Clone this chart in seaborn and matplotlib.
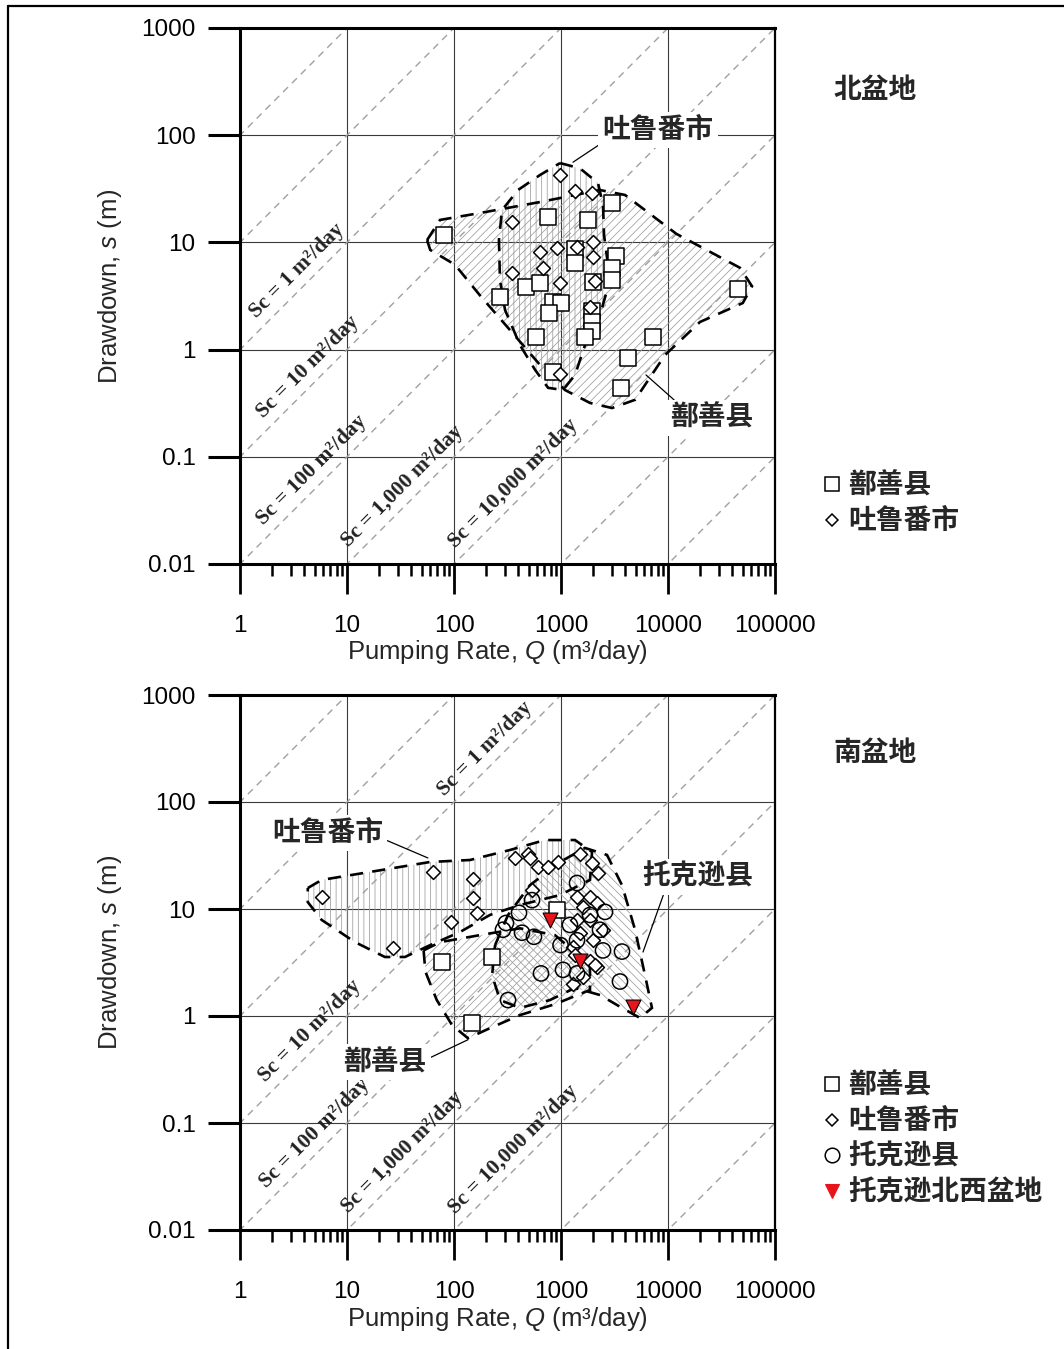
import numpy as np
import matplotlib
matplotlib.use("Agg")
import matplotlib.pyplot as plt
import seaborn as sns
from matplotlib.patches import Polygon
from matplotlib.lines import Line2D
from matplotlib.ticker import FixedLocator, FixedFormatter, NullFormatter, NullLocator

# ---------------- data ----------------
# North basin (北盆地): pumping rate Q (m3/day) and drawdown s (m)
north_shanshan_q = [80, 760, 1800, 3000, 3300, 1350, 1350, 3000, 3000, 2000, 470, 640, 270,
                    840, 1000, 770, 1950, 1950, 1950, 580, 1680, 7200, 4200, 3600, 840, 45000]
north_shanshan_s = [11.7, 17.3, 16.2, 23.3, 7.5, 8.7, 6.4, 5.8, 4.5, 4.3, 3.8, 4.2, 3.1,
                    2.8, 2.7, 2.2, 2.3, 1.8, 1.5, 1.3, 1.3, 1.3, 0.84, 0.44, 0.62, 3.7]
north_turpan_q = [980, 1350, 1950, 350, 640, 920, 1400, 2000, 2000, 350, 680, 980, 2080, 1870, 980]
north_turpan_s = [42.5, 30, 29, 15.5, 8.1, 8.9, 9.1, 10.1, 7.3, 5.2, 5.8, 4.2, 4.4, 2.5, 0.59]

# North basin envelopes
north_shanshan_env_q = [56, 74, 175, 636, 2314, 3963, 12000, 47000, 61000, 50000, 19900, 9380,
                        4920, 3000, 1866, 1089, 636, 334, 175, 102, 60]
north_shanshan_env_s = [10.5, 16.2, 18.8, 23.8, 30.8, 27.7, 12.0, 5.8, 3.9, 2.72, 1.81, 0.89,
                        0.34, 0.285, 0.318, 0.42, 0.72, 1.52, 3.2, 6.2, 8.5]
north_turpan_env_q = [980, 1506, 2218, 2470, 2525, 2870, 2314, 1676, 1352, 1045, 757, 571,
                      414, 300, 269, 263, 281, 396, 636]
north_turpan_env_s = [55, 49, 35.8, 22.3, 11.7, 4.46, 2.1, 1.1, 0.58, 0.42, 0.44, 0.65,
                      1.1, 2.34, 4.46, 10.5, 20, 30.8, 42.5]

# South basin (南盆地)
south_shanshan_q = [77, 227, 147, 918]
south_shanshan_s = [3.2, 3.56, 0.86, 9.8]
south_turpan_q = [5.8, 64, 150, 150, 164, 94, 27, 372, 492, 513, 610, 757, 937, 1505, 1950,
                  2218, 536, 1412, 1866, 1606, 2170, 1412, 1866, 2470, 1505, 1991, 1295,
                  1866, 2170, 1606, 1295, 1352, 2080]
south_turpan_s = [12.9, 22.2, 19.1, 12.7, 9.2, 7.6, 4.3, 30, 33, 30, 24.7, 24.7, 27.5, 33, 26.9,
                  21.7, 15.1, 12.9, 12.9, 10.4, 11.4, 7.9, 7.9, 6.4, 6.0, 5.1, 4.4,
                  3.3, 2.87, 2.3, 2.0, 3.7, 3.0]
south_toksun_q = [1412, 536, 405, 306, 287, 432, 559, 650, 320, 1044, 1412, 3715, 3558, 2470,
                  2578, 1866, 1213, 1412, 990, 2314]
south_toksun_s = [17.5, 12.1, 9.2, 7.4, 6.4, 6.0, 5.5, 2.5, 1.41, 2.7, 2.5, 4.0, 2.1, 4.1,
                  9.4, 8.8, 7.1, 5.1, 4.6, 6.4]
south_nw_q = [789, 1505, 4710]
south_nw_s = [7.9, 3.3, 1.21]

# South basin envelopes
south_turpan_env_q = [4.3, 5.8, 16.4, 59.7, 141, 334, 708, 1352, 1950, 1866, 979, 414, 217,
                      114, 60, 34.8, 22.6, 11.9, 5.8, 4.3]
south_turpan_env_s = [15.7, 18.7, 22.2, 27.5, 28.7, 35.6, 44.1, 44.1, 34.1, 18.7, 13.5, 10.9,
                      8.8, 6.1, 4.6, 3.56, 3.56, 4.9, 7.9, 11.6]
south_shanshan_env_q = [52, 74, 175, 414, 879, 1866, 1866, 879, 414, 217, 135, 96, 69, 54]
south_shanshan_env_s = [4.1, 4.9, 5.7, 6.6, 5.7, 3.0, 1.75, 1.29, 1.02, 0.77, 0.62, 0.82,
                        1.41, 2.6]
south_toksun_env_q = [242, 320, 513, 979, 1676, 2692, 3715, 4920, 6100, 7080, 5470, 3715,
                      2314, 1352, 789, 414, 269, 227]
south_toksun_env_s = [4.6, 8.8, 16.7, 27.5, 37.2, 32, 16.7, 6.4, 2.4, 1.19, 0.96, 1.19,
                      1.57, 1.83, 1.41, 1.19, 1.41, 2.4]

# Specific capacity reference lines, Sc = Q / s
sc_values = [0.01, 0.1, 1, 10, 100, 1000, 10000, 100000, 1000000]
sc_label_text = {1: "Sc = 1 m²/day", 10: "Sc = 10 m²/day", 100: "Sc = 100 m²/day",
                 1000: "Sc = 1,000 m²/day", 10000: "Sc = 10,000 m²/day"}
north_sc_label_q = {1: 3.4, 10: 4.3, 100: 4.7, 1000: 33, 10000: 356}
south_sc_label_q = {1: 195, 10: 4.5, 100: 5.0, 1000: 33, 10000: 356}

q_ticks = [1, 10, 100, 1000, 10000, 100000]
q_tick_labels = ["1", "10", "100", "1000", "10000", "100000"]
s_ticks = [0.01, 0.1, 1, 10, 100, 1000]
s_tick_labels = ["0.01", "0.1", "1", "10", "100", "1000"]

# ---------------- style ----------------
sns.set_theme(style="white")
plt.rcParams["font.family"] = ["Liberation Sans", "Noto Sans CJK SC"]
plt.rcParams["mathtext.fontset"] = "custom"
plt.rcParams["mathtext.rm"] = "Liberation Sans"
plt.rcParams["mathtext.it"] = "Liberation Sans:italic"
plt.rcParams["hatch.linewidth"] = 0.55
CJK = ["Noto Sans CJK SC", "DejaVu Sans"]
HATCH_GRAY = "#9c9c9c"
CJK_SIZE = 20
TICK_SIZE = 17.5
TITLE_SIZE = 18.5

fig = plt.figure(figsize=(10.64, 13.49), dpi=100)
fig.patch.set_facecolor("white")

# outer frame (left and top edges)
fig.add_artist(Line2D([8 / 1064, 8 / 1064], [0, 1 - 6 / 1349], transform=fig.transFigure,
                      color="black", lw=1.6))
fig.add_artist(Line2D([8 / 1064, 1], [1 - 6 / 1349, 1 - 6 / 1349], transform=fig.transFigure,
                      color="black", lw=1.6))

ax_n = fig.add_axes([240 / 1064, 1 - 564 / 1349, 535 / 1064, 536 / 1349])
ax_s = fig.add_axes([240 / 1064, 1 - 1230 / 1349, 535 / 1064, 535 / 1349])


def setup_axes(ax):
    ax.set_xscale("log")
    ax.set_yscale("log")
    ax.set_xlim(1, 1e5)
    ax.set_ylim(0.01, 1000)
    ax.xaxis.set_major_locator(FixedLocator(q_ticks))
    ax.xaxis.set_major_formatter(FixedFormatter(q_tick_labels))
    minor = [m * 10 ** e for e in range(0, 5) for m in range(2, 10)]
    ax.xaxis.set_minor_locator(FixedLocator(minor))
    ax.xaxis.set_minor_formatter(NullFormatter())
    ax.yaxis.set_major_locator(FixedLocator(s_ticks))
    ax.yaxis.set_major_formatter(FixedFormatter(s_tick_labels))
    ax.yaxis.set_minor_locator(NullLocator())
    ax.tick_params(axis="x", which="both", bottom=True, top=False)
    ax.tick_params(axis="y", which="both", left=True, right=False)
    ax.tick_params(axis="x", which="major", direction="out", length=21.5, width=2.0,
                   pad=15, labelsize=TICK_SIZE, colors="black")
    ax.tick_params(axis="x", which="minor", direction="out", length=8.5, width=1.8,
                   colors="black")
    ax.tick_params(axis="y", which="major", direction="out", length=23, width=2.2,
                   pad=9, labelsize=TICK_SIZE, colors="black")
    for side in ["left", "bottom", "top"]:
        ax.spines[side].set_linewidth(2.2)
        ax.spines[side].set_color("black")
    ax.spines["right"].set_linewidth(1.6)
    ax.spines["right"].set_color("black")
    for v in q_ticks:
        ax.axvline(v, color="#3a3a3a", lw=0.8, zorder=1)
    for v in s_ticks:
        ax.axhline(v, color="#3a3a3a", lw=0.8, zorder=1)
    qq = np.array([0.1, 1e7])
    for sc in sc_values:
        ax.plot(qq, qq / sc, color="#a0a0a0", lw=1.0, ls=(0, (5, 4)), zorder=2)


def sc_labels(ax, label_q):
    for sc, q in label_q.items():
        ax.text(q, q / sc * 1.6, sc_label_text[sc], rotation=45, rotation_mode="anchor",
                ha="center", va="center", family="Liberation Serif", weight="bold",
                fontsize=15.5, color="#222222", zorder=3)


def envelope(ax, q, s, hatch):
    xy = np.column_stack([q, s])
    ax.add_patch(Polygon(xy, closed=True, facecolor="none", edgecolor=HATCH_GRAY, lw=0,
                         hatch=hatch, zorder=3))
    ax.add_patch(Polygon(xy, closed=True, fill=False, edgecolor="black", lw=1.9,
                         ls=(0, (5, 3.5)), zorder=4))


def points(ax, q, s, marker, size, face, edge="black", lw=1.1, z=6):
    sns.scatterplot(x=q, y=s, marker=marker, s=size, color=edge, facecolor=face,
                    edgecolor=edge, linewidth=lw, ax=ax, legend=False, zorder=z)


def label(ax, text, xy, xytext, relpos):
    ax.annotate(text, xy=xy, xytext=xytext, ha="center", va="center", fontsize=CJK_SIZE,
                family=CJK, weight="bold", zorder=8,
                bbox=dict(boxstyle="square,pad=0.15", fc="white", ec="none"),
                arrowprops=dict(arrowstyle="-", color="black", lw=0.9, relpos=relpos,
                                shrinkA=0, shrinkB=0))


# ---------------- North basin ----------------
setup_axes(ax_n)
sc_labels(ax_n, north_sc_label_q)
envelope(ax_n, north_shanshan_env_q, north_shanshan_env_s, "////")
envelope(ax_n, north_turpan_env_q, north_turpan_env_s, "|||")
points(ax_n, north_shanshan_q, north_shanshan_s, "s", 135, "white")
points(ax_n, north_turpan_q, north_turpan_s, "D", 50, "white")
label(ax_n, "吐鲁番市", xy=(1295, 56), xytext=(8070, 112), relpos=(0, 0.05))
label(ax_n, "鄯善县", xy=(6230, 0.58), xytext=(25800, 0.23), relpos=(0.1, 1))

# ---------------- South basin ----------------
setup_axes(ax_s)
sc_labels(ax_s, south_sc_label_q)
envelope(ax_s, south_turpan_env_q, south_turpan_env_s, "|||")
envelope(ax_s, south_shanshan_env_q, south_shanshan_env_s, "////")
envelope(ax_s, south_toksun_env_q, south_toksun_env_s, "\\\\\\\\")
points(ax_s, south_turpan_q, south_turpan_s, "D", 50, "white")
points(ax_s, south_shanshan_q, south_shanshan_s, "s", 135, "white")
points(ax_s, south_toksun_q, south_toksun_s, "o", 120, "none")
points(ax_s, south_nw_q, south_nw_s, "v", 115, "#e8141c", lw=0.8, z=7)
label(ax_s, "吐鲁番市", xy=(57, 30), xytext=(6.6, 51), relpos=(1, 0.3))
label(ax_s, "托克逊县", xy=(5840, 3.96), xytext=(19100, 19.9), relpos=(0.2, 0))
label(ax_s, "鄯善县", xy=(135, 0.60), xytext=(22.6, 0.37), relpos=(1, 0.6))

# axis titles
for ax, yc, xl_y in [(ax_n, 1 - 286 / 1349, 1 - 652 / 1349), (ax_s, 1 - 952 / 1349, 1 - 1319 / 1349)]:
    fig.text(110 / 1064, yc, "Drawdown, $s$ (m)", rotation=90, ha="center", va="center",
             fontsize=TITLE_SIZE)
    fig.text(497 / 1064, xl_y, "Pumping Rate, $Q$ (m³/day)", ha="center", va="center",
             fontsize=TITLE_SIZE)

# basin names
fig.text(875 / 1064, 1 - 90 / 1349, "北盆地", ha="center", va="center", fontsize=CJK_SIZE,
         family=CJK, weight="bold")
fig.text(875 / 1064, 1 - 753 / 1349, "南盆地", ha="center", va="center", fontsize=CJK_SIZE,
         family=CJK, weight="bold")

# legends
h_sq = Line2D([], [], ls="none", marker="s", ms=10.5, mfc="white", mec="black", mew=1.1)
h_di = Line2D([], [], ls="none", marker="D", ms=6.5, mfc="white", mec="black", mew=1.1)
h_ci = Line2D([], [], ls="none", marker="o", ms=10.5, mfc="white", mec="black", mew=1.1)
h_tr = Line2D([], [], ls="none", marker="v", ms=10.5, mfc="#e8141c", mec="#e8141c", mew=0.8)
leg_kw = dict(frameon=False, handlelength=0.7, handletextpad=0.25, borderpad=0,
              labelspacing=0.27, prop=dict(family=CJK, weight="bold", size=CJK_SIZE))
fig.legend([h_sq, h_di], ["鄯善县", "吐鲁番市"], loc="upper left",
           bbox_to_anchor=(808 / 1064, 1 - 458 / 1349), **leg_kw)
fig.legend([h_sq, h_di, h_ci, h_tr], ["鄯善县", "吐鲁番市", "托克逊县", "托克逊北西盆地"],
           loc="upper left", bbox_to_anchor=(808 / 1064, 1 - 1058 / 1349), **leg_kw)

fig.savefig("out.png", dpi=100)
